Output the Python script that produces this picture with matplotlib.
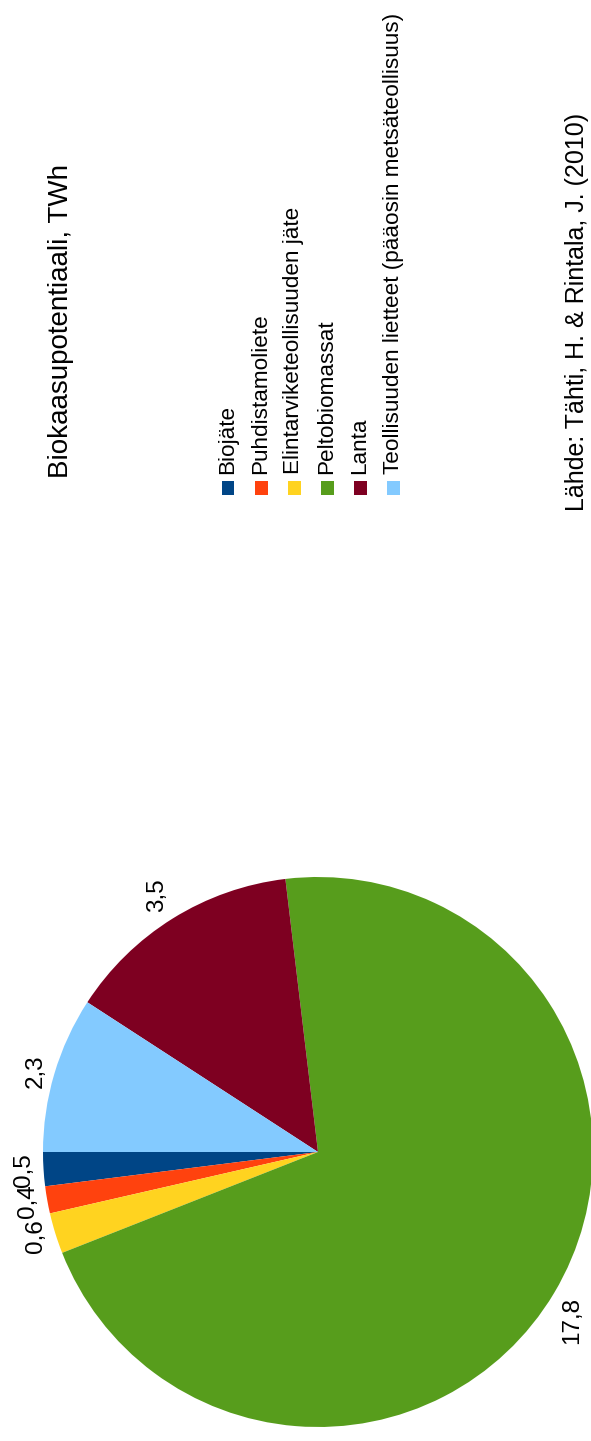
import matplotlib
matplotlib.use("Agg")
import numpy as np
import matplotlib.pyplot as plt
from matplotlib.patches import Rectangle

plt.rcParams['font.family'] = ['Liberation Sans', 'DejaVu Sans']

categories = ['Biojäte', 'Puhdistamoliete', 'Elintarviketeollisuuden jäte',
              'Peltobiomassat', 'Lanta',
              'Teollisuuden lietteet (pääosin metsäteollisuus)']
values = [0.5, 0.4, 0.6, 17.8, 3.5, 2.3]
value_labels = ['0,5', '0,4', '0,6', '17,8', '3,5', '2,3']
colors = ['#004586', '#ff420e', '#ffd320', '#579d1c', '#7e0021', '#83caff']
title = 'Biokaasupotentiaali, TWh'
source = 'Lähde: Tähti, H. & Rintala, J. (2010)'

W, H = 591, 1441
fig = plt.figure(figsize=(W / 100, H / 100), dpi=100)

# pie (whole chart is turned 90 degrees)
cx, cy, r = 318, 1152, 275
ax = fig.add_axes([(cx - r) / W, (H - cy - r) / H, 2 * r / W, 2 * r / H])
wedges, _ = ax.pie(values, colors=colors, startangle=180, counterclock=True,
                   wedgeprops=dict(linewidth=0))

# value labels just outside each wedge, box edge facing the pie
for w, lab in zip(wedges, value_labels):
    ang = np.deg2rad((w.theta1 + w.theta2) / 2)
    c, s = np.cos(ang), np.sin(ang)
    ha = 'left' if c > 0 else 'right'
    if abs(s) < 0.5:
        va = 'center'
    else:
        va = 'bottom' if s > 0 else 'top'
    ax.text(1.03 * c, 1.03 * s, lab, rotation=90, ha=ha, va=va, fontsize=17.5)

ax.set_xlim(-1, 1)
ax.set_ylim(-1, 1)
ax.axis('off')

# title and source
fig.text(61 / W, 1 - 478 / H, title, rotation=90, ha='center', va='bottom', fontsize=20)
fig.text(577 / W, 1 - 511 / H, source, rotation=90, ha='center', va='bottom', fontsize=18)

# legend, drawn by hand so it can be turned
sq = 13
for i, (name, c) in enumerate(zip(categories, colors)):
    x = 228 + 33 * i
    fig.add_artist(Rectangle(((x - sq / 2) / W, 1 - (488 + sq / 2) / H), sq / W, sq / H,
                             transform=fig.transFigure, facecolor=c, edgecolor='none'))
    fig.text(x / W, 1 - 474 / H, name, rotation=90, ha='center', va='bottom', fontsize=16.2)

fig.savefig('out.png', dpi=100)
